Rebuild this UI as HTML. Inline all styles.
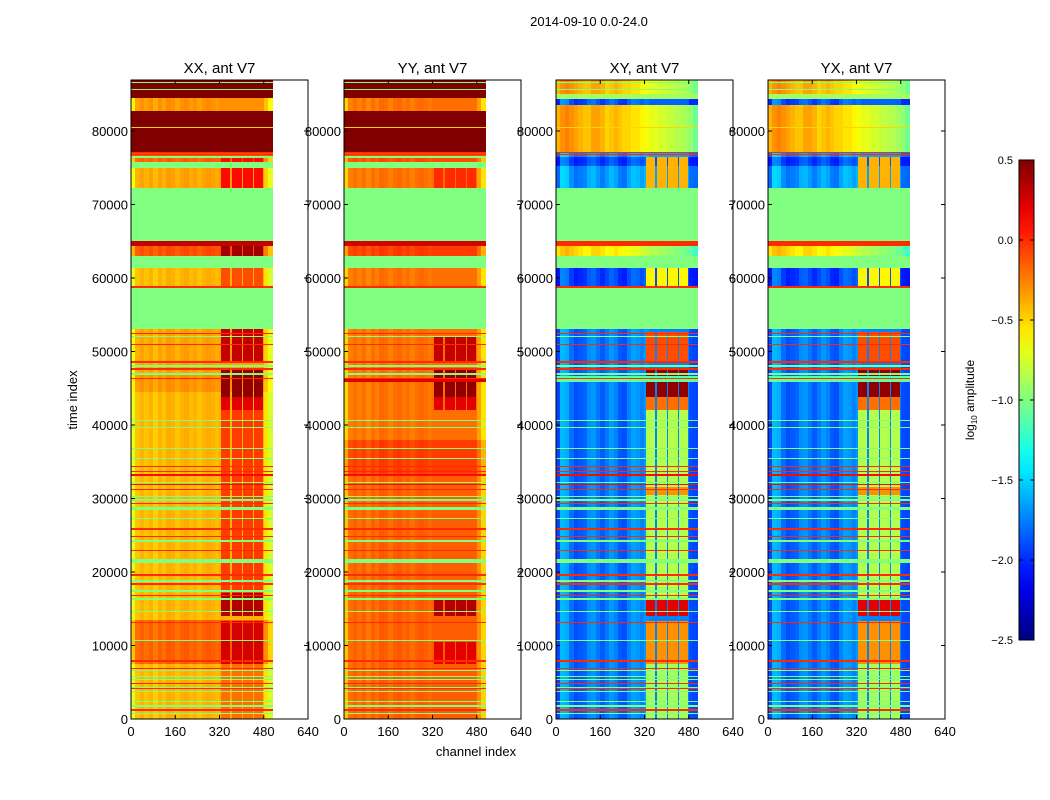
<!DOCTYPE html>
<html><head><meta charset="utf-8"><style>
body{margin:0;background:#fff;width:1050px;height:800px;overflow:hidden;position:relative;font-family:"Liberation Sans","DejaVu Sans",sans-serif}
canvas{position:absolute;image-rendering:pixelated}
svg{position:absolute;left:0;top:0}
</style></head><body>
<canvas id="c0" width="177" height="639" style="left:131px;top:80px"></canvas>
<canvas id="c1" width="177" height="639" style="left:344px;top:80px"></canvas>
<canvas id="c2" width="177" height="639" style="left:556px;top:80px"></canvas>
<canvas id="c3" width="177" height="639" style="left:768px;top:80px"></canvas>
<svg id="ov" width="1050" height="800"></svg>
<script>
const panelTitles=["XX, ant V7","YY, ant V7","XY, ant V7","YX, ant V7"];
const xTicks=[0,160,320,480,640];
const yTicks=[0,10000,20000,30000,40000,50000,60000,70000,80000];
const cbTicks=[0.5,0.0,-0.5,-1.0,-1.5,-2.0,-2.5];
const cbLabels=["0.5","0.0","\u22120.5","\u22121.0","\u22121.5","\u22122.0","\u22122.5"];
const tMax=86940, chMax=640, nChan=512, vMin=-2.5, vMax=0.5;
const rfiCols=[[326,358],[364,401],[405,441],[445,477]];
const bandsXX=[[84500,86940,0.5,-1],[82700,84500,-0.3,0],[77000,82700,0.5,-1],[76600,77000,-0.1,-1],[76300,76600,-1.0,-1],[75800,76300,-0.15,0],[75000,75800,-1.0,-1],[72300,75000,-0.35,0],[65100,72300,-1.0,-1],[64300,65100,0.3,-1],[63000,64300,-0.1,0],[61300,63000,-1.0,-1],[58900,61300,-0.4,0],[58600,58900,0.0,-1],[53000,58600,-1.0,-1],[46800,53000,-0.35,0],[44500,46800,-0.3,0],[13500,44500,-0.4,0],[7500,13500,-0.15,0],[0,7500,-0.4,0]];
const bandsYY=[[84500,86940,0.5,-1],[82700,84500,-0.2,0],[77000,82700,0.5,-1],[76600,77000,-0.1,-1],[76300,76600,-1.0,-1],[75800,76300,-0.1,0],[75000,75800,-1.0,-1],[72300,75000,-0.2,0],[65100,72300,-1.0,-1],[64300,65100,0.25,-1],[63000,64300,-0.05,0],[61300,63000,-1.0,-1],[58900,61300,-0.2,0],[58600,58900,0.0,-1],[53000,58600,-1.0,-1],[46200,53000,-0.2,0],[45800,46200,0.2,-1],[38000,45800,-0.2,0],[33000,38000,-0.05,0],[0,33000,-0.15,0]];
const bandsXY=[[85000,86940,-0.45,1],[84400,85000,-0.9,-1],[83500,84400,-1.9,2],[77200,83500,-0.45,1],[76400,77200,-1.7,2],[75300,76400,-1.95,2],[72300,75300,-1.7,2],[65100,72300,-1.0,-1],[64300,65100,0.0,-1],[63000,64300,-0.6,1],[61300,63000,-1.0,-1],[58900,61300,-1.95,2],[58600,58900,0.0,-1],[53000,58600,-1.0,-1],[46600,53000,-1.8,2],[45900,46600,-1.1,-1],[0,45900,-1.8,2]];
const bandsYX=bandsXY;
const profWarm=[-0.3,-0.05,0.0,-0.05,0.0,-0.08,0.0,-0.05,0.02,0.0,-0.05,0.0,0.02,-0.03,0.0,-0.05,0.0,0.02,0.0,-0.03,0.0,0,0,0,0,0,0,0,0,0,-0.15,-0.35];
const profTop=[0.05,0.15,0.2,0.15,0.1,0.05,0.0,0.0,0.1,0.1,0.05,-0.05,0.0,0.05,0.0,-0.05,-0.05,-0.1,-0.1,-0.15,-0.2,-0.25,-0.25,-0.3,-0.3,-0.35,-0.35,-0.4,-0.4,-0.45,-0.5,-0.6];
const profBlue=[-0.12,0.22,0.18,0.0,-0.1,-0.06,-0.03,0.09,0.12,0.03,-0.06,0.03,0.12,0.06,-0.06,-0.09,0.06,0.15,0.12,0.06,0.12,0.06,0.06,0.06,0.06,0.06,0.06,0.06,0.06,0.06,-0.1,-0.12];
const rfiXX=[[72300,76600,0.1],[63000,65100,0.4],[58900,61300,-0.1],[48700,53000,0.3],[43800,47700,0.45],[42000,43800,0.2],[17200,42000,-0.05],[14000,17200,0.35],[7500,13300,0.25],[0,7500,-0.2]];
const rfiYY=[[72300,75000,0.0],[48700,52000,0.3],[43800,47700,0.45],[42000,43800,0.2],[14000,16500,0.35],[7500,10500,0.2]];
const rfiXY=[[72300,76400,-0.4],[58900,61300,-0.6],[48500,52700,-0.1],[43800,47500,0.45],[42000,43800,-0.2],[30500,31500,-0.3],[16500,42000,-0.85],[14000,16500,0.2],[7500,13300,-0.3],[0,7500,-0.9]];
const rfiYX=rfiXY;
const flagLines=[[86576,150,-1.0],[85669,150,-1.0],[80499,150,-0.5],[77098,150,0.0],[76800,150,0.0],[52472,150,0.0],[52018,150,-1.0],[50975,150,0.0],[48617,250,0.0],[48027,150,-1.0],[47619,150,0.0],[46939,150,-1.0],[46349,150,0.0],[40590,150,-1.0],[39637,150,-1.0],[36826,150,-1.0],[35465,150,-1.0],[34331,150,0.0],[33651,150,0.0],[33197,150,0.1],[32200,150,-1.0],[31928,150,0.1],[31247,150,0.0],[30249,150,-1.0],[29796,150,-1.0],[29343,150,0.0],[28663,440,-1.0],[27302,150,-1.0],[25805,250,0.0],[24807,150,0.0],[24263,300,-1.0],[22902,150,0.0],[21542,500,-1.0],[19592,300,0.0],[18730,270,-1.0],[18367,150,0.0],[17415,150,-1.0],[16780,150,0.0],[16327,150,-1.0],[14603,200,-1.0],[13152,150,0.0],[10657,150,-1.0],[7891,250,0.0],[6893,150,0.0],[6576,150,-1.0],[5760,150,-1.0],[5397,150,-1.0],[4853,150,0.0],[4308,150,-1.0],[4172,150,0.0],[3719,150,-1.0],[2358,150,-1.0],[1769,150,-1.0],[1224,150,0.0],[771,150,-1.0]];

const panels=[[bandsXX,rfiXX],[bandsYY,rfiYY],[bandsXY,rfiXY],[bandsYX,rfiYX]];
const profiles=[profWarm,profTop,profBlue];
const panelX=[131,344,556,768], pTop=80, pBottom=719, pw=177, ph=639;
const xScale=ch=>ch/chMax*pw, yScale=t=>pBottom-t/tMax*ph;

function jet(v){let x=(v-vMin)/(vMax-vMin);x=Math.max(0,Math.min(1,x));
 const c=a=>Math.round(255*Math.max(0,Math.min(1,a)));
 return [c(1.5-Math.abs(4*x-3)),c(1.5-Math.abs(4*x-2)),c(1.5-Math.abs(4*x-1))];}
function valueAt(p,t,ch){
 for(const l of flagLines){if(Math.abs(t-l[0])<=l[1]/2)return l[2];}
 const bands=panels[p][0],rfi=panels[p][1];
 let v=null,pi=-1;
 for(const b of bands){if(t>=b[0]&&t<b[1]){v=b[2];pi=b[3];break;}}
 if(v===null)return null;
 if(pi>=0){
  const inR=rfiCols.some(c=>ch>=c[0]&&ch<c[1]);
  if(inR){for(const r of rfi){if(t>=r[0]&&t<r[1])return r[2];}}
  v+=profiles[pi][Math.min(31,Math.floor(ch/16))];
 }
 return v;}
for(let p=0;p<4;p++){
 const cv=document.getElementById('c'+p),ctx=cv.getContext('2d');
 const img=ctx.createImageData(pw,ph);
 for(let py=0;py<ph;py++){
  const t=tMax*(1-(py+0.5)/ph);
  for(let px=0;px<pw;px++){
   const ch=(px+0.5)*chMax/pw;const i=(py*pw+px)*4;
   if(ch>=nChan){img.data[i+3]=0;continue;}
   const v=valueAt(p,t,ch);if(v===null){img.data[i+3]=0;continue;}
   const c=jet(v);img.data[i]=c[0];img.data[i+1]=c[1];img.data[i+2]=c[2];img.data[i+3]=255;}}
 ctx.putImageData(img,0,0);}

const NS="http://www.w3.org/2000/svg",ov=document.getElementById('ov');
function mk(tag,attrs,txt){const e=document.createElementNS(NS,tag);for(const k in attrs)e.setAttribute(k,attrs[k]);if(txt!==undefined)e.textContent=txt;ov.appendChild(e);return e;}
for(let p=0;p<4;p++){
 const x0=panelX[p];
 const fr=mk('rect',{x:x0,y:pTop,width:pw,height:ph,fill:'none',stroke:'#000','stroke-width':1});
 
 
 const ti=mk('text',{x:x0+pw/2,y:73,'text-anchor':'middle','font-size':15},panelTitles[p]);
 
 
 for(const xt of xTicks){const x=x0+xScale(xt);
  mk('line',{x1:x,x2:x,y1:pBottom,y2:pBottom-4,stroke:'#000'});mk('line',{x1:x,x2:x,y1:pTop,y2:pTop+4,stroke:'#000'});
  const tl=mk('text',{x:x,y:736,'text-anchor':'middle','font-size':13},String(xt));
  
  }
 for(const yt of yTicks){const y=yScale(yt);
  mk('line',{x1:x0,x2:x0+4,y1:y,y2:y,stroke:'#000'});mk('line',{x1:x0+pw,x2:x0+pw-4,y1:y,y2:y,stroke:'#000'});
  const yl=mk('text',{x:x0-3,y:y+5,'text-anchor':'end','font-size':13},String(yt));
  
  }
}
const st=mk('text',{x:589,y:26,'text-anchor':'middle','font-size':13},'2014-09-10 0.0-24.0');


const ya=mk('text',{x:77,y:400,'text-anchor':'middle','font-size':13,transform:'rotate(-90 77 400)'},'time index');


const xa=mk('text',{x:476,y:756,'text-anchor':'middle','font-size':13},'channel index');


const defs=mk('defs',{});const g=document.createElementNS(NS,'linearGradient');g.setAttribute('id','jg');g.setAttribute('x1','0');g.setAttribute('y1','1');g.setAttribute('x2','0');g.setAttribute('y2','0');defs.appendChild(g);
for(let i=0;i<=20;i++){const v=vMin+(vMax-vMin)*i/20;const c=jet(v);const s=document.createElementNS(NS,'stop');s.setAttribute('offset',i/20);s.setAttribute('stop-color','rgb('+c.join(',')+')');g.appendChild(s);}
const cbx=1019,cbw=15,cbt=160,cbb=640;
const cb=mk('rect',{x:cbx,y:cbt,width:cbw,height:cbb-cbt,fill:'url(#jg)',stroke:'#000','stroke-width':1});


cbTicks.forEach((v,i)=>{const y=cbb-(v-vMin)/(vMax-vMin)*(cbb-cbt);
 mk('line',{x1:cbx,x2:cbx+4,y1:y,y2:y,stroke:'#000'});mk('line',{x1:cbx+cbw,x2:cbx+cbw-4,y1:y,y2:y,stroke:'#000'});
 const l=mk('text',{x:1013,y:y+4,'text-anchor':'end','font-size':11},cbLabels[i]);
 
 });
const cl=mk('text',{x:974,y:400,'text-anchor':'middle','font-size':12,transform:'rotate(-90 974 400)'});


cl.innerHTML='log<tspan font-size="8" dy="3">10</tspan><tspan dy="-3"> amplitude</tspan>';
</script>
</body></html>
